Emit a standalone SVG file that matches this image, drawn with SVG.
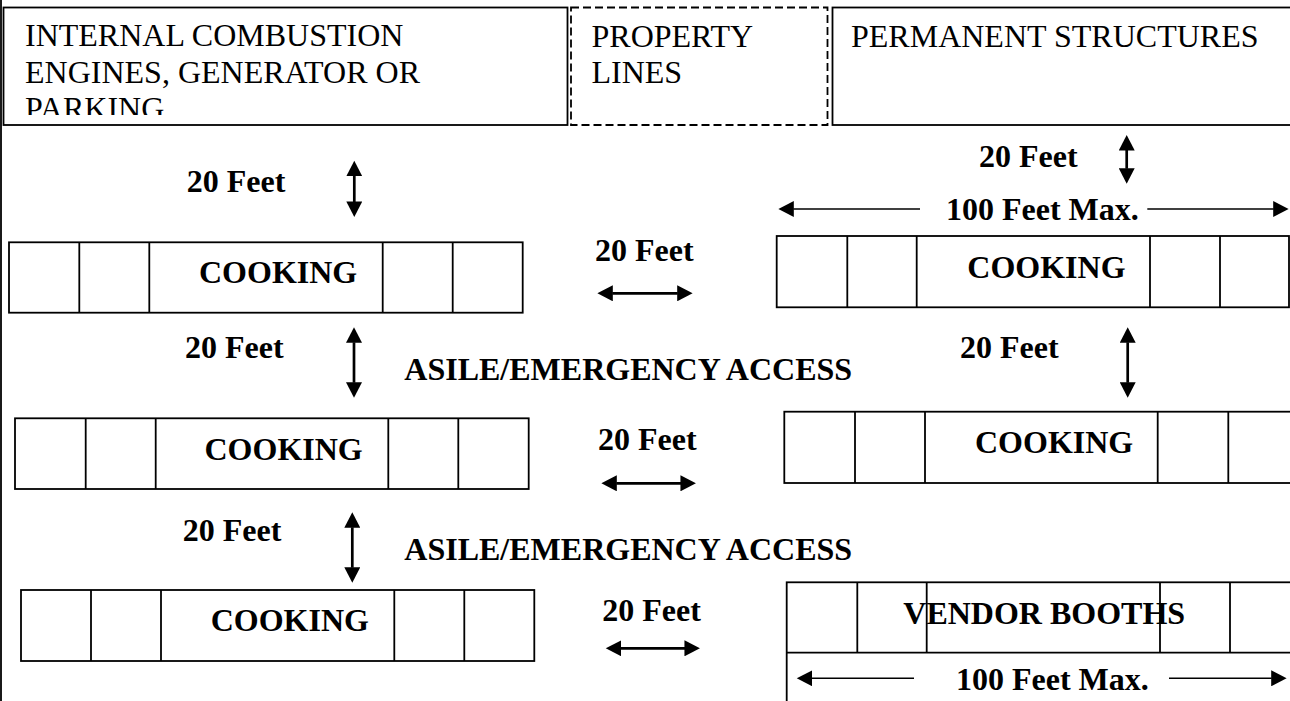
<svg xmlns="http://www.w3.org/2000/svg" width="1290" height="701" viewBox="0 0 1290 701">
<style>
.box{fill:#fff;stroke:#000;stroke-width:1.8}
.div{stroke:#000;stroke-width:1.8}
.hdr{font-family:"Liberation Serif","Times New Roman",serif;font-size:32px;fill:#000}
.lbl{font-family:"Liberation Serif","Times New Roman",serif;font-size:32px;font-weight:bold;fill:#000}
.arr{stroke:#000;stroke-width:2.7;fill:none}
.dim{stroke:#000;stroke-width:1.5;fill:none}
</style>
<defs>
<marker id="ah" markerUnits="userSpaceOnUse" markerWidth="16" markerHeight="16" viewBox="0 0 15 15" refX="0.5" refY="7.5" orient="auto-start-reverse">
<path d="M0,0 L14.5,7.5 L0,15 Z" fill="#000"/>
</marker>
<clipPath id="clip1"><rect x="0" y="0" width="570" height="115"/></clipPath>
</defs>
<rect width="1290" height="701" fill="#fff"/>
<line x1="1" y1="0" x2="1" y2="701" class="div"/>

<g id="hdr-engines">
<rect x="3.5" y="7.5" width="564" height="117.5" class="box"/>
<g clip-path="url(#clip1)">
<text class="hdr" x="25" y="46">INTERNAL COMBUSTION</text>
<text class="hdr" x="25" y="82.5">ENGINES, GENERATOR OR</text>
<text class="hdr" x="25" y="119">PARKING</text>
</g>
</g>
<g id="hdr-property">
<rect x="571" y="7.5" width="256.5" height="117.5" class="box" stroke-dasharray="8 4"/>
<text class="hdr" x="591.5" y="46.5">PROPERTY</text>
<text class="hdr" x="591.5" y="83">LINES</text>
</g>
<g id="hdr-permanent">
<rect x="832.5" y="7.5" width="470" height="117.5" class="box"/>
<text class="hdr" x="851" y="47">PERMANENT STRUCTURES</text>
</g>

<g id="cook-l1">
<rect x="9" y="242.3" width="513.7" height="70.4" class="box"/>
<line x1="79.3" y1="242.3" x2="79.3" y2="312.7" class="div"/>
<line x1="149.3" y1="242.3" x2="149.3" y2="312.7" class="div"/>
<line x1="382.7" y1="242.3" x2="382.7" y2="312.7" class="div"/>
<line x1="452.7" y1="242.3" x2="452.7" y2="312.7" class="div"/>
<text class="lbl" x="199" y="283.3">COOKING</text>
</g>
<g id="cook-l2">
<rect x="15" y="418.3" width="513.7" height="70.7" class="box"/>
<line x1="85.7" y1="418.3" x2="85.7" y2="489" class="div"/>
<line x1="155.7" y1="418.3" x2="155.7" y2="489" class="div"/>
<line x1="388.3" y1="418.3" x2="388.3" y2="489" class="div"/>
<line x1="458.3" y1="418.3" x2="458.3" y2="489" class="div"/>
<text class="lbl" x="204.5" y="459.5">COOKING</text>
</g>
<g id="cook-l3">
<rect x="21" y="590" width="513.3" height="71" class="box"/>
<line x1="91" y1="590" x2="91" y2="661" class="div"/>
<line x1="161" y1="590" x2="161" y2="661" class="div"/>
<line x1="394.3" y1="590" x2="394.3" y2="661" class="div"/>
<line x1="464.3" y1="590" x2="464.3" y2="661" class="div"/>
<text class="lbl" x="210.7" y="631">COOKING</text>
</g>
<g id="cook-r1">
<rect x="776.7" y="236" width="512.3" height="71.3" class="box"/>
<line x1="847.3" y1="236" x2="847.3" y2="307.3" class="div"/>
<line x1="916.7" y1="236" x2="916.7" y2="307.3" class="div"/>
<line x1="1150" y1="236" x2="1150" y2="307.3" class="div"/>
<line x1="1220" y1="236" x2="1220" y2="307.3" class="div"/>
<text class="lbl" x="967.3" y="277.7">COOKING</text>
</g>
<g id="cook-r2">
<rect x="784.3" y="411.7" width="520" height="71.3" class="box"/>
<line x1="855" y1="411.7" x2="855" y2="483" class="div"/>
<line x1="925" y1="411.7" x2="925" y2="483" class="div"/>
<line x1="1157.7" y1="411.7" x2="1157.7" y2="483" class="div"/>
<line x1="1228.3" y1="411.7" x2="1228.3" y2="483" class="div"/>
<text class="lbl" x="975" y="453.3">COOKING</text>
</g>
<g id="vendor">
<rect x="786.7" y="582.3" width="520" height="140" class="box"/>
<line x1="786.7" y1="652.7" x2="1290" y2="652.7" class="div"/>
<line x1="857.3" y1="582.3" x2="857.3" y2="652.7" class="div"/>
<line x1="926.7" y1="582.3" x2="926.7" y2="652.7" class="div"/>
<line x1="1160" y1="582.3" x2="1160" y2="652.7" class="div"/>
<line x1="1230" y1="582.3" x2="1230" y2="652.7" class="div"/>
<text class="lbl" x="903.3" y="624">VENDOR BOOTHS</text>
</g>

<g id="labels">
<text class="lbl" x="186.7" y="191.7">20 Feet</text>
<text class="lbl" x="979" y="166.7">20 Feet</text>
<text class="lbl" x="946" y="220">100 Feet Max.</text>
<text class="lbl" x="595" y="260.7">20 Feet</text>
<text class="lbl" x="185" y="358.3">20 Feet</text>
<text class="lbl" x="960" y="357.7">20 Feet</text>
<text class="lbl" x="404.3" y="380">ASILE/EMERGENCY ACCESS</text>
<text class="lbl" x="598" y="450">20 Feet</text>
<text class="lbl" x="182.7" y="541">20 Feet</text>
<text class="lbl" x="404.3" y="560">ASILE/EMERGENCY ACCESS</text>
<text class="lbl" x="602.3" y="620.7">20 Feet</text>
<text class="lbl" x="956" y="690">100 Feet Max.</text>
</g>

<g id="connectors">
<line x1="354.3" y1="175.7" x2="354.3" y2="202" class="arr" marker-start="url(#ah)" marker-end="url(#ah)"/>
<line x1="1126.7" y1="150" x2="1126.7" y2="168.7" class="arr" marker-start="url(#ah)" marker-end="url(#ah)"/>
<line x1="354" y1="342.3" x2="354" y2="382.7" class="arr" marker-start="url(#ah)" marker-end="url(#ah)"/>
<line x1="1127.7" y1="342.3" x2="1127.7" y2="382.7" class="arr" marker-start="url(#ah)" marker-end="url(#ah)"/>
<line x1="352.3" y1="527.3" x2="352.3" y2="567.7" class="arr" marker-start="url(#ah)" marker-end="url(#ah)"/>
<line x1="612.3" y1="293.3" x2="677.7" y2="293.3" class="arr" marker-start="url(#ah)" marker-end="url(#ah)"/>
<line x1="616.3" y1="483.3" x2="681" y2="483.3" class="arr" marker-start="url(#ah)" marker-end="url(#ah)"/>
<line x1="620.7" y1="648.3" x2="685" y2="648.3" class="arr" marker-start="url(#ah)" marker-end="url(#ah)"/>
<line x1="920" y1="209" x2="793.3" y2="209" class="dim" marker-end="url(#ah)"/>
<line x1="1147.3" y1="209" x2="1273.7" y2="209" class="dim" marker-end="url(#ah)"/>
<line x1="914" y1="678.3" x2="811.7" y2="678.3" class="dim" marker-end="url(#ah)"/>
<line x1="1169" y1="678.3" x2="1271.7" y2="678.3" class="dim" marker-end="url(#ah)"/>
</g>
</svg>
